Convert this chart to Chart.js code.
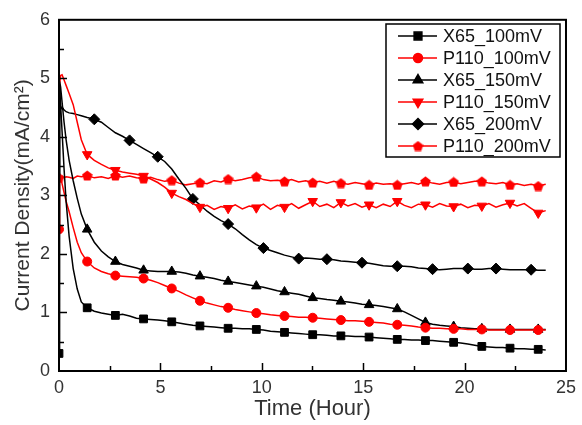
<!DOCTYPE html>
<html>
<head>
<meta charset="utf-8">
<script src="https://cdn.jsdelivr.net/npm/chart.js@4.4.0/dist/chart.umd.min.js"></script>
<style>
  html, body { margin: 0; padding: 0; background: #fff; }
  #wrap { width: 582px; height: 425px; }
</style>
</head>
<body>
<div id="wrap"><canvas id="chart" width="582" height="425"></canvas></div>
<script>
// time grid (hours), shared by every curve
const hours = [0, 0.03, 0.08, 0.15, 0.25, 0.35, 0.5, 0.7, 0.9, 1.1,
  1.39, 1.74, 2.09, 2.43, 2.78, 3.13, 3.48, 3.82, 4.17, 4.52,
  4.87, 5.21, 5.56, 5.91, 6.26, 6.60, 6.95, 7.30, 7.65, 7.99,
  8.34, 8.69, 9.04, 9.38, 9.73, 10.08, 10.43, 10.77, 11.12, 11.47,
  11.82, 12.16, 12.51, 12.86, 13.21, 13.55, 13.90, 14.25, 14.60, 14.94,
  15.29, 15.64, 15.99, 16.33, 16.68, 17.03, 17.38, 17.72, 18.07, 18.42,
  18.77, 19.11, 19.46, 19.81, 20.16, 20.50, 20.85, 21.20, 21.55, 21.89,
  22.24, 22.59, 22.94, 23.28, 23.63, 24.0];

const x65_100 = [0.30, 4.85, 4.55, 4.10, 3.45, 2.90, 2.30, 1.75, 1.40, 1.18,
  1.08, 1.02, 0.99, 0.97, 0.95, 0.97, 0.94, 0.90, 0.89, 0.88,
  0.87, 0.86, 0.84, 0.82, 0.80, 0.78, 0.77, 0.76, 0.75, 0.74,
  0.73, 0.73, 0.72, 0.72, 0.71, 0.70, 0.68, 0.67, 0.66, 0.65,
  0.64, 0.63, 0.62, 0.62, 0.61, 0.60, 0.60, 0.60, 0.59, 0.59,
  0.58, 0.57, 0.56, 0.55, 0.54, 0.54, 0.53, 0.53, 0.52, 0.52,
  0.51, 0.50, 0.49, 0.48, 0.46, 0.44, 0.42, 0.41, 0.40, 0.40,
  0.39, 0.38, 0.38, 0.37, 0.37, 0.36];

const p110_100 = [2.42, 3.35, 3.30, 3.20, 3.05, 2.90, 2.72, 2.45, 2.20, 2.02,
  1.87, 1.76, 1.70, 1.66, 1.63, 1.62, 1.61, 1.60, 1.58, 1.55,
  1.51, 1.46, 1.41, 1.36, 1.30, 1.25, 1.20, 1.16, 1.13, 1.10,
  1.08, 1.05, 1.03, 1.01, 0.99, 0.98, 0.96, 0.95, 0.94, 0.93,
  0.92, 0.92, 0.91, 0.90, 0.89, 0.88, 0.87, 0.86, 0.86, 0.85,
  0.84, 0.83, 0.82, 0.80, 0.79, 0.78, 0.77, 0.75, 0.74, 0.73,
  0.73, 0.72, 0.72, 0.72, 0.71, 0.71, 0.71, 0.70, 0.70, 0.70,
  0.70, 0.70, 0.70, 0.70, 0.70, 0.70];

const x65_150 = [3.30, 4.95, 4.85, 4.60, 4.25, 3.95, 3.60, 3.25, 2.95, 2.68,
  2.42, 2.20, 2.05, 1.95, 1.87, 1.82, 1.79, 1.76, 1.72, 1.71,
  1.70, 1.70, 1.70, 1.69, 1.67, 1.64, 1.62, 1.60, 1.58, 1.55,
  1.53, 1.51, 1.49, 1.47, 1.45, 1.43, 1.40, 1.37, 1.35, 1.33,
  1.31, 1.28, 1.25, 1.24, 1.22, 1.21, 1.19, 1.18, 1.16, 1.14,
  1.13, 1.12, 1.10, 1.08, 1.06, 1.01, 0.95, 0.89, 0.83, 0.80,
  0.78, 0.77, 0.76, 0.74, 0.73, 0.72, 0.72, 0.71, 0.71, 0.71,
  0.71, 0.71, 0.71, 0.71, 0.71, 0.71];

const p110_150 = [4.40, 4.90, 5.05, 5.06, 4.97, 4.88, 4.74, 4.55, 4.25, 3.95,
  3.70, 3.60, 3.53, 3.47, 3.43, 3.40, 3.38, 3.36, 3.33, 3.28,
  3.22, 3.14, 3.04, 2.98, 2.93, 2.86, 2.80, 2.83, 2.76, 2.81,
  2.78, 2.84, 2.77, 2.82, 2.79, 2.85, 2.76, 2.83, 2.80, 2.86,
  2.78, 2.84, 2.90, 2.81, 2.85, 2.79, 2.88, 2.82, 2.86, 2.80,
  2.84, 2.79, 2.85, 2.81, 2.90, 2.83, 2.79, 2.85, 2.84, 2.80,
  2.86, 2.82, 2.81, 2.85, 2.79, 2.83, 2.82, 2.86, 2.80, 2.84,
  2.87, 2.82, 2.86, 2.78, 2.70, 2.74];

const x65_200 = [4.50, 4.56, 4.52, 4.48, 4.46, 4.43, 4.41, 4.40, 4.38, 4.36,
  4.33, 4.30, 4.25, 4.16, 4.07, 4.01, 3.94, 3.87, 3.80, 3.73,
  3.66, 3.58, 3.45, 3.28, 3.12, 2.94, 2.84, 2.73, 2.64, 2.57,
  2.51, 2.43, 2.33, 2.24, 2.16, 2.10, 2.06, 2.02, 1.98, 1.95,
  1.92, 1.93, 1.92, 1.91, 1.91, 1.90, 1.88, 1.87, 1.86, 1.85,
  1.84, 1.82, 1.80, 1.79, 1.79, 1.79, 1.78, 1.76, 1.75, 1.74,
  1.73, 1.74, 1.75, 1.75, 1.75, 1.74, 1.74, 1.75, 1.75, 1.74,
  1.73, 1.73, 1.73, 1.73, 1.72, 1.72];

const p110_200 = [3.30, 3.32, 3.31, 3.33, 3.30, 3.32, 3.31, 3.29, 3.33, 3.32,
  3.34, 3.30, 3.32, 3.29, 3.34, 3.31, 3.33, 3.30, 3.29, 3.31,
  3.27, 3.24, 3.26, 3.21, 3.18, 3.20, 3.22, 3.20, 3.25, 3.23,
  3.28, 3.25, 3.27, 3.30, 3.32, 3.27, 3.25, 3.26, 3.24, 3.27,
  3.23, 3.25, 3.22, 3.24, 3.21, 3.24, 3.21, 3.19, 3.22, 3.20,
  3.18, 3.21, 3.19, 3.20, 3.18, 3.20, 3.22, 3.19, 3.24, 3.21,
  3.19, 3.22, 3.23, 3.20, 3.22, 3.24, 3.24, 3.21, 3.20, 3.22,
  3.18, 3.20, 3.17, 3.19, 3.16, 3.19];

const names = ["X65_100mV", "P110_100mV", "X65_150mV", "P110_150mV", "X65_200mV", "P110_200mV"];
const xTicks = [0, 5, 10, 15, 20, 25];
const yTicks = [0, 1, 2, 3, 4, 5, 6];

const FONT = "'Liberation Sans', Arial, sans-serif";
const RED = "#ff0000";
const BLACK = "#000000";

// pentagon marker for the last series
function pentagon(size, color) {
  const c = document.createElement("canvas");
  c.width = size; c.height = size;
  const g = c.getContext("2d");
  g.fillStyle = color;
  g.beginPath();
  for (let k = 0; k < 5; k++) {
    const a = -Math.PI / 2 + k * 2 * Math.PI / 5;
    const px = size / 2 + (size / 2) * Math.cos(a);
    const py = size / 2 + 0.6 + (size / 2) * Math.sin(a);
    if (k === 0) g.moveTo(px, py); else g.lineTo(px, py);
  }
  g.closePath();
  g.fill();
  return c;
}

// a marker sits on the grid point nearest to each multiple of "step" hours
function isMarker(i, step, first) {
  if (i === 0) return first;
  const t = hours[i];
  const k = Math.round(t / step);
  if (k < 1) return false;
  const target = k * step;
  const d = Math.abs(t - target);
  const prev = Math.abs(hours[i - 1] - target);
  const next = i < hours.length - 1 ? Math.abs(hours[i + 1] - target) : Infinity;
  return d <= prev && d < next;
}

function makeSet(label, values, color, style, radius, step, first, rotation) {
  return {
    label: label,
    data: hours.map((t, i) => ({ x: t, y: values[i] })),
    borderColor: color,
    backgroundColor: color,
    borderWidth: 1.5,
    pointStyle: style,
    pointRotation: rotation || 0,
    pointBorderWidth: 1,
    pointRadius: ctx => isMarker(ctx.dataIndex, step, first) ? radius : 0,
    legendRadius: radius,
    tension: 0,
    fill: false
  };
}

const datasets = [
  makeSet(names[0], x65_100, BLACK, "rect", 5.5, 1.39, true),
  makeSet(names[1], p110_100, RED, "circle", 4.5, 1.39, true),
  makeSet(names[2], x65_150, BLACK, "triangle", 5.5, 1.39, false),
  makeSet(names[3], p110_150, RED, "triangle", 5.5, 1.39, false, 180),
  makeSet(names[4], x65_200, BLACK, "rectRot", 5.5, 1.67, false),
  makeSet(names[5], p110_200, RED, pentagon(11, RED), 5, 1.39, true)
];

// frame, inward ticks and the boxed legend
const framePlugin = {
  id: "frame",
  afterDraw(chart) {
    const ctx = chart.ctx;
    const a = chart.chartArea;
    const xs = chart.scales.x, ys = chart.scales.y;
    ctx.save();
    ctx.strokeStyle = "#000";
    ctx.lineWidth = 1.5;
    for (let v = 2.5; v < 25; v += 2.5) {
      const px = Math.round(xs.getPixelForValue(v)) + 0.5;
      const len = v % 5 === 0 ? 8 : 5;
      ctx.beginPath(); ctx.moveTo(px, a.bottom); ctx.lineTo(px, a.bottom - len); ctx.stroke();
    }
    for (let v = 0.5; v < 6; v += 0.5) {
      const py = Math.round(ys.getPixelForValue(v)) + 0.5;
      const len = v % 1 === 0 ? 8 : 5;
      ctx.beginPath(); ctx.moveTo(a.left, py); ctx.lineTo(a.left + len, py); ctx.stroke();
    }
    ctx.lineWidth = 2;
    ctx.strokeRect(a.left, a.top, a.right - a.left, a.bottom - a.top);

    // legend
    const bx = 386, by = 24, bw = 174, bh = 133;
    ctx.fillStyle = "#fff";
    ctx.fillRect(bx, by, bw, bh);
    ctx.lineWidth = 1.5;
    ctx.strokeStyle = "#000";
    ctx.strokeRect(bx, by, bw, bh);
    ctx.font = "18px " + FONT;
    ctx.textBaseline = "middle";
    ctx.textAlign = "left";
    chart.data.datasets.forEach((ds, i) => {
      const y = 36 + i * 22;
      ctx.strokeStyle = ds.borderColor;
      ctx.lineWidth = 1.5;
      ctx.beginPath(); ctx.moveTo(398, y); ctx.lineTo(437, y); ctx.stroke();
      ctx.fillStyle = ds.borderColor;
      Chart.helpers.drawPoint(ctx, {
        pointStyle: ds.pointStyle, rotation: ds.pointRotation,
        radius: ds.legendRadius, borderWidth: 1
      }, 418, y);
      ctx.fillStyle = "#111";
      ctx.fillText(ds.label, 443, y + 1);
    });
    ctx.restore();
  }
};

new Chart(document.getElementById("chart").getContext("2d"), {
  type: "line",
  data: { datasets: datasets },
  plugins: [framePlugin],
  options: {
    responsive: false,
    animation: false,
    events: [],
    layout: { padding: { top: 14, right: 10, left: 0, bottom: 0 } },
    plugins: { legend: { display: false }, tooltip: { enabled: false } },
    scales: {
      x: {
        type: "linear",
        min: 0, max: 25,
        afterFit: s => { s.height = 54; },
        afterBuildTicks: s => { s.ticks = xTicks.map(v => ({ value: v })); },
        grid: { display: false, drawTicks: false },
        border: { display: false },
        ticks: { color: "#333", font: { family: FONT, size: 18 }, padding: 6, maxRotation: 0 },
        title: { display: true, text: "Time (Hour)", color: "#333",
                 font: { family: FONT, size: 22 }, padding: { top: 0, bottom: 3 } }
      },
      y: {
        min: 0, max: 6,
        afterFit: s => { s.width = 59; },
        afterBuildTicks: s => { s.ticks = yTicks.map(v => ({ value: v })); },
        grid: { display: false, drawTicks: false },
        border: { display: false },
        ticks: { color: "#333", font: { family: FONT, size: 18 }, padding: 9 },
        title: { display: true, text: "Current Density(mA/cm\u00B2)", color: "#333",
                 font: { family: FONT, size: 21 }, padding: { top: 11, bottom: 0 } }
      }
    }
  }
});
</script>
</body>
</html>
